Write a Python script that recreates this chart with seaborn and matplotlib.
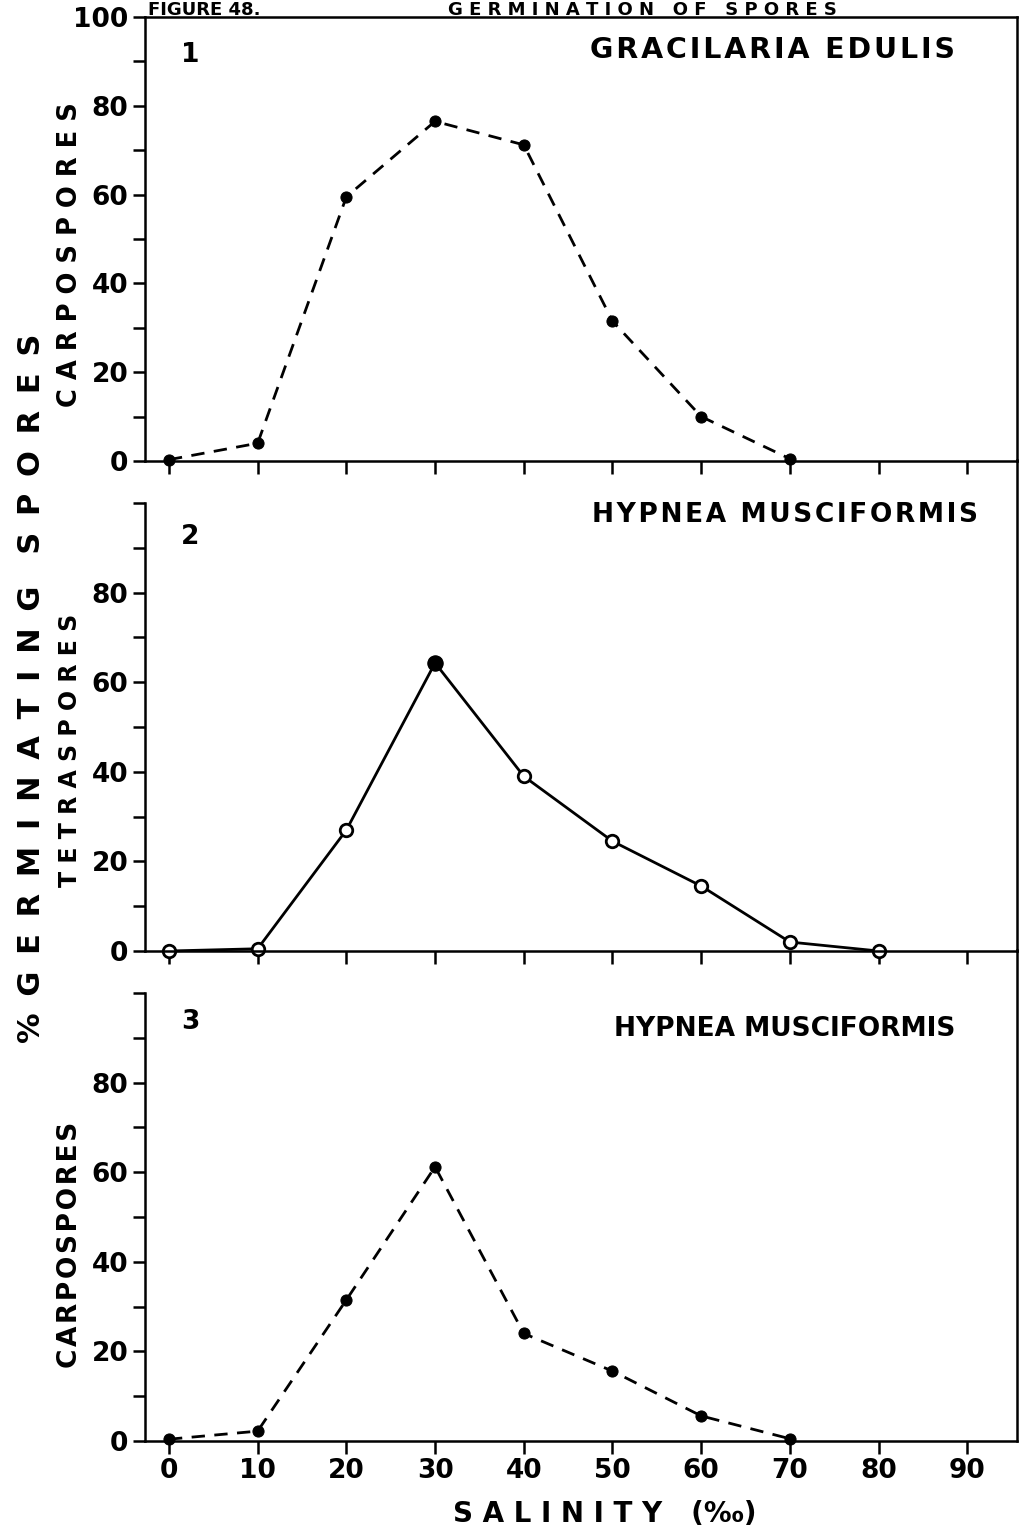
import numpy as np
import pandas as pd
import matplotlib
matplotlib.use("Agg")
import matplotlib.pyplot as plt
import seaborn as sns

# salinity (per mille)
salinity = [0, 10, 20, 30, 40, 50, 60, 70]
salinity_tetra = [0, 10, 20, 30, 40, 50, 60, 70, 80]

# % germinating spores
gracilaria_carpo = [0.3, 4, 59.5, 76.5, 71.2, 31.5, 10, 0.5]
hypnea_tetra = [0, 0.5, 27, 64.3, 39, 24.5, 14.5, 2, 0]
hypnea_tetra_filled = [False, False, False, True, False, False, False, False, False]
hypnea_carpo = [0.4, 2.2, 31.5, 61.2, 24, 15.6, 5.6, 0.5]

x_ticks = [0, 10, 20, 30, 40, 50, 60, 70, 80, 90]
y_ticks = [0, 10, 20, 30, 40, 50, 60, 70, 80, 90, 100]


def spaced(s, sep):
    # widen letter spacing the way the typewritten original does
    return sep.join(s)


sns.set_style("ticks")
plt.rcParams['font.family'] = ['DejaVu Sans']
plt.rcParams['font.weight'] = 'bold'
plt.rcParams['text.color'] = 'black'
plt.rcParams['xtick.color'] = 'black'
plt.rcParams['ytick.color'] = 'black'

fig = plt.figure(figsize=(10.19, 15.36), dpi=100)

W, H = 1019, 1536
left_px, right_px = 145, 1017
panels_px = [(17, 461), (503, 951), (993, 1441)]
axes = []
for top, bot in panels_px:
    ax = fig.add_axes([left_px / W, 1 - bot / H, (right_px - left_px) / W, (bot - top) / H])
    axes.append(ax)

lw = 2.0
dash = (4.8, 3.4)

df1 = pd.DataFrame({'salinity': salinity, 'pct': gracilaria_carpo})
df2 = pd.DataFrame({'salinity': salinity_tetra, 'pct': hypnea_tetra, 'filled': hypnea_tetra_filled})
df3 = pd.DataFrame({'salinity': salinity, 'pct': hypnea_carpo})

sns.lineplot(data=df1, x='salinity', y='pct', ax=axes[0], color='black', lw=lw,
             marker='o', markersize=8, markeredgecolor='black')
axes[0].lines[-1].set_dashes(dash)

sns.lineplot(data=df2, x='salinity', y='pct', ax=axes[1], color='black', lw=lw,
             marker='o', markersize=9, markerfacecolor='white',
             markeredgecolor='black', markeredgewidth=2)
sns.scatterplot(data=df2[df2['filled']], x='salinity', y='pct', ax=axes[1],
                color='black', s=120, zorder=5, edgecolor='black')

sns.lineplot(data=df3, x='salinity', y='pct', ax=axes[2], color='black', lw=lw,
             marker='o', markersize=8, markeredgecolor='black')
axes[2].lines[-1].set_dashes(dash)

tick_font = dict(fontsize=19, fontweight='bold')
for i, ax in enumerate(axes):
    ax.set_xlim(-2.7, 95.6)
    ax.set_ylim(0, 100)
    ax.set_xticks(x_ticks)
    ax.set_yticks(y_ticks)
    if i == 0:
        ylabels = ['0', '', '20', '', '40', '', '60', '', '80', '', '100']
    else:
        ylabels = ['0', '', '20', '', '40', '', '60', '', '80', '', '']
    ax.set_yticklabels(ylabels, **tick_font)
    if i == 2:
        ax.set_xticklabels([str(t) for t in x_ticks], **tick_font)
    else:
        ax.set_xticklabels([])
    ax.tick_params(axis='both', direction='out', length=9, width=1.8, colors='black', pad=3)
    ax.set_xlabel('')
    ax.set_ylabel('')
    for s in ['left', 'bottom', 'right']:
        ax.spines[s].set_linewidth(1.8)
        ax.spines[s].set_color('black')
    if i == 0:
        ax.spines['top'].set_linewidth(1.8)
        ax.spines['top'].set_color('black')
        ax.spines['top'].set_visible(True)
    else:
        ax.spines['top'].set_visible(False)
        ax.spines['right'].set_bounds(0, 109.5)
    for ln in ax.lines:
        ln.set_clip_on(False)
    for c in ax.collections:
        c.set_clip_on(False)

hair = '\u200a'
lab_font = dict(fontsize=19, fontweight='bold', color='black')
axes[0].text(2.4, 91.5, '1', ha='center', va='center', **lab_font)
axes[1].text(2.4, 92.4, '2', ha='center', va='center', **lab_font)
axes[2].text(2.4, 93.5, '3', ha='center', va='center', **lab_font)
axes[0].text(88.6, 92.6, spaced('GRACILARIA EDULIS', hair), ha='right', va='center',
             fontsize=20.5, fontweight='bold')
axes[1].text(91.2, 97.3, spaced('HYPNEA MUSCIFORMIS', hair), ha='right', va='center', **lab_font)
axes[2].text(88.6, 91.9, 'HYPNEA MUSCIFORMIS', ha='right', va='center', **lab_font)

# side labels
wide = ' \u2009'
fig.text(32 / W, 1 - 688 / H, '%' + wide + spaced('GERMINATING', wide) + '   ' + spaced('SPORES', wide),
         rotation=90, ha='center', va='center', fontsize=22, fontweight='bold')
fig.text(70 / W, 1 - 255 / H, spaced('CARPOSPORES', ' '), rotation=90,
         ha='center', va='center', fontsize=18.5, fontweight='bold')
fig.text(70 / W, 1 - 750 / H, spaced('TETRASPORES', ' '), rotation=90,
         ha='center', va='center', fontsize=17, fontweight='bold')
fig.text(70 / W, 1 - 1245 / H, spaced('CARPOSPORES', hair), rotation=90,
         ha='center', va='center', fontsize=19, fontweight='bold')
fig.text(605 / W, 1 - 1514 / H, spaced('SALINITY', ' ') + '   (‰)', ha='center', va='center',
         fontsize=20, fontweight='bold')

# figure title along the top edge
fig.text(148 / W, 0.9995, 'FIGURE 48.', ha='left', va='top', fontsize=13, fontweight='bold')
fig.text(448 / W, 0.9995, spaced('GERMINATION', ' ') + '   ' + spaced('OF', ' ') + '   ' + spaced('SPORES', ' '),
         ha='left', va='top', fontsize=13, fontweight='bold')

fig.savefig('out.png', dpi=100, facecolor='white')
